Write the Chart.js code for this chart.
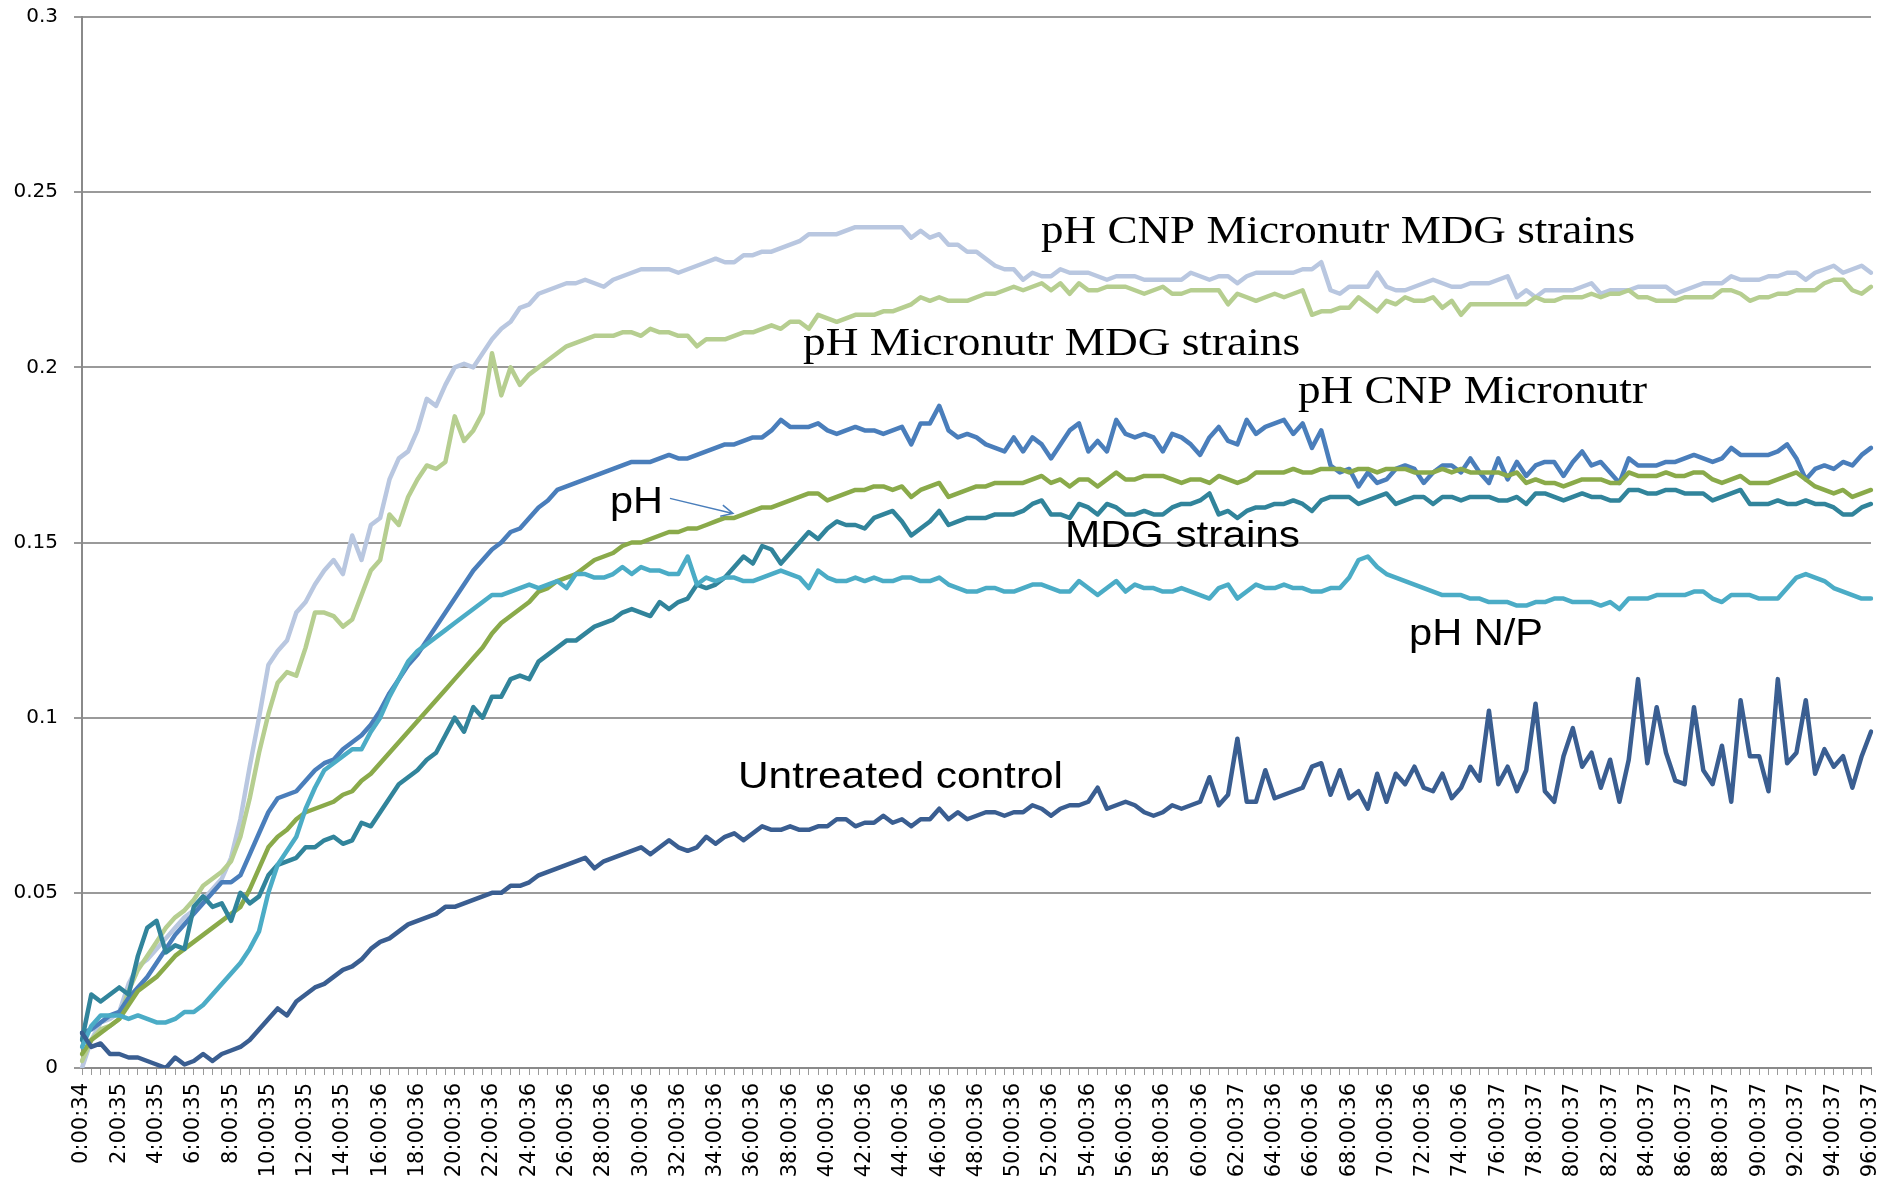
<!DOCTYPE html>
<html lang="en">
  <head>
    <meta charset="UTF-8" />
    <title>Growth curves</title>
    <script src="https://cdn.jsdelivr.net/npm/chart.js"></script>
    <style>
      html, body { margin: 0; padding: 0; background: #ffffff; }
      .wrap { width: 1883px; height: 1196px; position: relative; }
    </style>
  </head>
  <body>
    <div class="wrap"><canvas id="growth"></canvas></div>

    <script>
      // tick labels shown every 2 hours (data is sampled every 30 minutes)
      const tickLabels = [
        "0:00:34", "2:00:35", "4:00:35", "6:00:35", "8:00:35", "10:00:35", "12:00:35",
        "14:00:35", "16:00:36", "18:00:36", "20:00:36", "22:00:36", "24:00:36", "26:00:36",
        "28:00:36", "30:00:36", "32:00:36", "34:00:36", "36:00:36", "38:00:36", "40:00:36",
        "42:00:36", "44:00:36", "46:00:36", "48:00:36", "50:00:36", "52:00:36", "54:00:36",
        "56:00:36", "58:00:36", "60:00:36", "62:00:37", "64:00:36", "66:00:36", "68:00:36",
        "70:00:36", "72:00:36", "74:00:36", "76:00:37", "78:00:37", "80:00:37", "82:00:37",
        "84:00:37", "86:00:37", "88:00:37", "90:00:37", "92:00:37", "94:00:37", "96:00:37",
      ];

      // one row = 4 hours (8 readings)
      const untreated = [
        0.010, 0.006, 0.007, 0.004, 0.004, 0.003, 0.003, 0.002,
        0.001, 0.000, 0.003, 0.001, 0.002, 0.004, 0.002, 0.004,
        0.005, 0.006, 0.008, 0.011, 0.014, 0.017, 0.015, 0.019,
        0.021, 0.023, 0.024, 0.026, 0.028, 0.029, 0.031, 0.034,
        0.036, 0.037, 0.039, 0.041, 0.042, 0.043, 0.044, 0.046,
        0.046, 0.047, 0.048, 0.049, 0.050, 0.050, 0.052, 0.052,
        0.053, 0.055, 0.056, 0.057, 0.058, 0.059, 0.060, 0.057,
        0.059, 0.060, 0.061, 0.062, 0.063, 0.061, 0.063, 0.065,
        0.063, 0.062, 0.063, 0.066, 0.064, 0.066, 0.067, 0.065,
        0.067, 0.069, 0.068, 0.068, 0.069, 0.068, 0.068, 0.069,
        0.069, 0.071, 0.071, 0.069, 0.070, 0.070, 0.072, 0.070,
        0.071, 0.069, 0.071, 0.071, 0.074, 0.071, 0.073, 0.071,
        0.072, 0.073, 0.073, 0.072, 0.073, 0.073, 0.075, 0.074,
        0.072, 0.074, 0.075, 0.075, 0.076, 0.080, 0.074, 0.075,
        0.076, 0.075, 0.073, 0.072, 0.073, 0.075, 0.074, 0.075,
        0.076, 0.083, 0.075, 0.078, 0.094, 0.076, 0.076, 0.085,
        0.077, 0.078, 0.079, 0.080, 0.086, 0.087, 0.078, 0.085,
        0.077, 0.079, 0.074, 0.084, 0.076, 0.084, 0.081, 0.086,
        0.080, 0.079, 0.084, 0.077, 0.080, 0.086, 0.082, 0.102,
        0.081, 0.086, 0.079, 0.085, 0.104, 0.079, 0.076, 0.089,
        0.097, 0.086, 0.090, 0.080, 0.088, 0.076, 0.088, 0.111,
        0.087, 0.103, 0.090, 0.082, 0.081, 0.103, 0.085, 0.081,
        0.092, 0.076, 0.105, 0.089, 0.089, 0.079, 0.111, 0.087,
        0.090, 0.105, 0.084, 0.091, 0.086, 0.089, 0.080, 0.089,
        0.096,
      ];

      const phNP = [
        0.006, 0.012, 0.015, 0.015, 0.015, 0.014, 0.015, 0.014,
        0.013, 0.013, 0.014, 0.016, 0.016, 0.018, 0.021, 0.024,
        0.027, 0.030, 0.034, 0.039, 0.050, 0.058, 0.062, 0.066,
        0.074, 0.080, 0.085, 0.087, 0.089, 0.091, 0.091, 0.096,
        0.100, 0.106, 0.111, 0.116, 0.119, 0.121, 0.123, 0.125,
        0.127, 0.129, 0.131, 0.133, 0.135, 0.135, 0.136, 0.137,
        0.138, 0.137, 0.138, 0.139, 0.137, 0.141, 0.141, 0.140,
        0.140, 0.141, 0.143, 0.141, 0.143, 0.142, 0.142, 0.141,
        0.141, 0.146, 0.138, 0.140, 0.139, 0.140, 0.140, 0.139,
        0.139, 0.140, 0.141, 0.142, 0.141, 0.140, 0.137, 0.142,
        0.140, 0.139, 0.139, 0.140, 0.139, 0.140, 0.139, 0.139,
        0.140, 0.140, 0.139, 0.139, 0.140, 0.138, 0.137, 0.136,
        0.136, 0.137, 0.137, 0.136, 0.136, 0.137, 0.138, 0.138,
        0.137, 0.136, 0.136, 0.139, 0.137, 0.135, 0.137, 0.139,
        0.136, 0.138, 0.137, 0.137, 0.136, 0.136, 0.137, 0.136,
        0.135, 0.134, 0.137, 0.138, 0.134, 0.136, 0.138, 0.137,
        0.137, 0.138, 0.137, 0.137, 0.136, 0.136, 0.137, 0.137,
        0.140, 0.145, 0.146, 0.143, 0.141, 0.140, 0.139, 0.138,
        0.137, 0.136, 0.135, 0.135, 0.135, 0.134, 0.134, 0.133,
        0.133, 0.133, 0.132, 0.132, 0.133, 0.133, 0.134, 0.134,
        0.133, 0.133, 0.133, 0.132, 0.133, 0.131, 0.134, 0.134,
        0.134, 0.135, 0.135, 0.135, 0.135, 0.136, 0.136, 0.134,
        0.133, 0.135, 0.135, 0.135, 0.134, 0.134, 0.134, 0.137,
        0.140, 0.141, 0.140, 0.139, 0.137, 0.136, 0.135, 0.134,
        0.134,
      ];

      const mdgStrains = [
        0.008, 0.021, 0.019, 0.021, 0.023, 0.021, 0.032, 0.040,
        0.042, 0.033, 0.035, 0.034, 0.046, 0.049, 0.046, 0.047,
        0.042, 0.050, 0.047, 0.049, 0.055, 0.058, 0.059, 0.060,
        0.063, 0.063, 0.065, 0.066, 0.064, 0.065, 0.070, 0.069,
        0.073, 0.077, 0.081, 0.083, 0.085, 0.088, 0.090, 0.095,
        0.100, 0.096, 0.103, 0.100, 0.106, 0.106, 0.111, 0.112,
        0.111, 0.116, 0.118, 0.120, 0.122, 0.122, 0.124, 0.126,
        0.127, 0.128, 0.130, 0.131, 0.130, 0.129, 0.133, 0.131,
        0.133, 0.134, 0.138, 0.137, 0.138, 0.140, 0.143, 0.146,
        0.144, 0.149, 0.148, 0.144, 0.147, 0.150, 0.153, 0.151,
        0.154, 0.156, 0.155, 0.155, 0.154, 0.157, 0.158, 0.159,
        0.156, 0.152, 0.154, 0.156, 0.159, 0.155, 0.156, 0.157,
        0.157, 0.157, 0.158, 0.158, 0.158, 0.159, 0.161, 0.162,
        0.158, 0.158, 0.157, 0.161, 0.160, 0.158, 0.161, 0.160,
        0.158, 0.158, 0.159, 0.158, 0.158, 0.160, 0.161, 0.161,
        0.162, 0.164, 0.158, 0.159, 0.157, 0.159, 0.160, 0.160,
        0.161, 0.161, 0.162, 0.161, 0.159, 0.162, 0.163, 0.163,
        0.163, 0.161, 0.162, 0.163, 0.164, 0.161, 0.162, 0.163,
        0.163, 0.161, 0.163, 0.163, 0.162, 0.163, 0.163, 0.163,
        0.162, 0.162, 0.163, 0.161, 0.164, 0.164, 0.163, 0.162,
        0.163, 0.164, 0.163, 0.163, 0.162, 0.162, 0.165, 0.165,
        0.164, 0.164, 0.165, 0.165, 0.164, 0.164, 0.164, 0.162,
        0.163, 0.164, 0.165, 0.161, 0.161, 0.161, 0.162, 0.161,
        0.161, 0.162, 0.161, 0.161, 0.160, 0.158, 0.158, 0.160,
        0.161,
      ];

      const phOnly = [
        0.004, 0.008, 0.010, 0.012, 0.014, 0.018, 0.022, 0.024,
        0.026, 0.029, 0.032, 0.034, 0.036, 0.038, 0.040, 0.042,
        0.044, 0.046, 0.051, 0.057, 0.063, 0.066, 0.068, 0.071,
        0.073, 0.074, 0.075, 0.076, 0.078, 0.079, 0.082, 0.084,
        0.087, 0.090, 0.093, 0.096, 0.099, 0.102, 0.105, 0.108,
        0.111, 0.114, 0.117, 0.120, 0.124, 0.127, 0.129, 0.131,
        0.133, 0.136, 0.137, 0.139, 0.140, 0.141, 0.143, 0.145,
        0.146, 0.147, 0.149, 0.150, 0.150, 0.151, 0.152, 0.153,
        0.153, 0.154, 0.154, 0.155, 0.156, 0.157, 0.157, 0.158,
        0.159, 0.160, 0.160, 0.161, 0.162, 0.163, 0.164, 0.164,
        0.162, 0.163, 0.164, 0.165, 0.165, 0.166, 0.166, 0.165,
        0.166, 0.163, 0.165, 0.166, 0.167, 0.163, 0.164, 0.165,
        0.166, 0.166, 0.167, 0.167, 0.167, 0.167, 0.168, 0.169,
        0.167, 0.168, 0.166, 0.168, 0.168, 0.166, 0.168, 0.170,
        0.168, 0.168, 0.169, 0.169, 0.169, 0.168, 0.167, 0.168,
        0.168, 0.167, 0.169, 0.168, 0.167, 0.168, 0.170, 0.170,
        0.170, 0.170, 0.171, 0.170, 0.170, 0.171, 0.171, 0.171,
        0.170, 0.171, 0.171, 0.170, 0.171, 0.171, 0.171, 0.170,
        0.170, 0.170, 0.171, 0.170, 0.171, 0.170, 0.170, 0.170,
        0.170, 0.169, 0.170, 0.167, 0.168, 0.167, 0.167, 0.166,
        0.167, 0.168, 0.168, 0.168, 0.167, 0.167, 0.170, 0.169,
        0.169, 0.169, 0.170, 0.169, 0.169, 0.170, 0.170, 0.168,
        0.167, 0.168, 0.169, 0.167, 0.167, 0.167, 0.168, 0.169,
        0.170, 0.168, 0.166, 0.165, 0.164, 0.165, 0.163, 0.164,
        0.165,
      ];

      const phCnpMicro = [
        0.010, 0.011, 0.013, 0.015, 0.016, 0.020, 0.023, 0.026,
        0.030, 0.034, 0.038, 0.041, 0.044, 0.047, 0.050, 0.053,
        0.053, 0.055, 0.061, 0.067, 0.073, 0.077, 0.078, 0.079,
        0.082, 0.085, 0.087, 0.088, 0.091, 0.093, 0.095, 0.098,
        0.102, 0.107, 0.111, 0.115, 0.118, 0.122, 0.126, 0.130,
        0.134, 0.138, 0.142, 0.145, 0.148, 0.150, 0.153, 0.154,
        0.157, 0.160, 0.162, 0.165, 0.166, 0.167, 0.168, 0.169,
        0.170, 0.171, 0.172, 0.173, 0.173, 0.173, 0.174, 0.175,
        0.174, 0.174, 0.175, 0.176, 0.177, 0.178, 0.178, 0.179,
        0.180, 0.180, 0.182, 0.185, 0.183, 0.183, 0.183, 0.184,
        0.182, 0.181, 0.182, 0.183, 0.182, 0.182, 0.181, 0.182,
        0.183, 0.178, 0.184, 0.184, 0.189, 0.182, 0.180, 0.181,
        0.180, 0.178, 0.177, 0.176, 0.180, 0.176, 0.180, 0.178,
        0.174, 0.178, 0.182, 0.184, 0.176, 0.179, 0.176, 0.185,
        0.181, 0.180, 0.181, 0.180, 0.176, 0.181, 0.180, 0.178,
        0.175, 0.180, 0.183, 0.179, 0.178, 0.185, 0.181, 0.183,
        0.184, 0.185, 0.181, 0.184, 0.177, 0.182, 0.172, 0.170,
        0.171, 0.166, 0.170, 0.167, 0.168, 0.171, 0.172, 0.171,
        0.167, 0.170, 0.172, 0.172, 0.170, 0.174, 0.170, 0.167,
        0.174, 0.168, 0.173, 0.169, 0.172, 0.173, 0.173, 0.169,
        0.173, 0.176, 0.172, 0.173, 0.170, 0.167, 0.174, 0.172,
        0.172, 0.172, 0.173, 0.173, 0.174, 0.175, 0.174, 0.173,
        0.174, 0.177, 0.175, 0.175, 0.175, 0.175, 0.176, 0.178,
        0.174, 0.168, 0.171, 0.172, 0.171, 0.173, 0.172, 0.175,
        0.177,
      ];

      const phMicroMdg = [
        0.002, 0.008, 0.011, 0.012, 0.014, 0.022, 0.028, 0.032,
        0.036, 0.040, 0.043, 0.045, 0.048, 0.052, 0.054, 0.056,
        0.059, 0.066, 0.077, 0.090, 0.101, 0.110, 0.113, 0.112,
        0.120, 0.130, 0.130, 0.129, 0.126, 0.128, 0.135, 0.142,
        0.145, 0.158, 0.155, 0.163, 0.168, 0.172, 0.171, 0.173,
        0.186, 0.179, 0.182, 0.187, 0.204, 0.192, 0.200, 0.195,
        0.198, 0.200, 0.202, 0.204, 0.206, 0.207, 0.208, 0.209,
        0.209, 0.209, 0.210, 0.210, 0.209, 0.211, 0.210, 0.210,
        0.209, 0.209, 0.206, 0.208, 0.208, 0.208, 0.209, 0.210,
        0.210, 0.211, 0.212, 0.211, 0.213, 0.213, 0.211, 0.215,
        0.214, 0.213, 0.214, 0.215, 0.215, 0.215, 0.216, 0.216,
        0.217, 0.218, 0.220, 0.219, 0.220, 0.219, 0.219, 0.219,
        0.220, 0.221, 0.221, 0.222, 0.223, 0.222, 0.223, 0.224,
        0.222, 0.224, 0.221, 0.224, 0.222, 0.222, 0.223, 0.223,
        0.223, 0.222, 0.221, 0.222, 0.223, 0.221, 0.221, 0.222,
        0.222, 0.222, 0.222, 0.218, 0.221, 0.220, 0.219, 0.220,
        0.221, 0.220, 0.221, 0.222, 0.215, 0.216, 0.216, 0.217,
        0.217, 0.220, 0.218, 0.216, 0.219, 0.218, 0.220, 0.219,
        0.219, 0.220, 0.217, 0.219, 0.215, 0.218, 0.218, 0.218,
        0.218, 0.218, 0.218, 0.218, 0.220, 0.219, 0.219, 0.220,
        0.220, 0.220, 0.221, 0.220, 0.221, 0.221, 0.222, 0.220,
        0.220, 0.219, 0.219, 0.219, 0.220, 0.220, 0.220, 0.220,
        0.222, 0.222, 0.221, 0.219, 0.220, 0.220, 0.221, 0.221,
        0.222, 0.222, 0.222, 0.224, 0.225, 0.225, 0.222, 0.221,
        0.223,
      ];

      const phCnpMicroMdg = [
        0.000, 0.008, 0.013, 0.014, 0.016, 0.024, 0.029, 0.031,
        0.034, 0.037, 0.040, 0.043, 0.045, 0.048, 0.051, 0.054,
        0.060, 0.071, 0.086, 0.100, 0.115, 0.119, 0.122, 0.130,
        0.133, 0.138, 0.142, 0.145, 0.141, 0.152, 0.145, 0.155,
        0.157, 0.168, 0.174, 0.176, 0.182, 0.191, 0.189, 0.195,
        0.200, 0.201, 0.200, 0.204, 0.208, 0.211, 0.213, 0.217,
        0.218, 0.221, 0.222, 0.223, 0.224, 0.224, 0.225, 0.224,
        0.223, 0.225, 0.226, 0.227, 0.228, 0.228, 0.228, 0.228,
        0.227, 0.228, 0.229, 0.230, 0.231, 0.230, 0.230, 0.232,
        0.232, 0.233, 0.233, 0.234, 0.235, 0.236, 0.238, 0.238,
        0.238, 0.238, 0.239, 0.240, 0.240, 0.240, 0.240, 0.240,
        0.240, 0.237, 0.239, 0.237, 0.238, 0.235, 0.235, 0.233,
        0.233, 0.231, 0.229, 0.228, 0.228, 0.225, 0.227, 0.226,
        0.226, 0.228, 0.227, 0.227, 0.227, 0.226, 0.225, 0.226,
        0.226, 0.226, 0.225, 0.225, 0.225, 0.225, 0.225, 0.227,
        0.226, 0.225, 0.226, 0.226, 0.224, 0.226, 0.227, 0.227,
        0.227, 0.227, 0.227, 0.228, 0.228, 0.230, 0.222, 0.221,
        0.223, 0.223, 0.223, 0.227, 0.223, 0.222, 0.222, 0.223,
        0.224, 0.225, 0.224, 0.223, 0.223, 0.224, 0.224, 0.224,
        0.225, 0.226, 0.220, 0.222, 0.220, 0.222, 0.222, 0.222,
        0.222, 0.223, 0.224, 0.221, 0.222, 0.222, 0.222, 0.223,
        0.223, 0.223, 0.223, 0.221, 0.222, 0.223, 0.224, 0.224,
        0.224, 0.226, 0.225, 0.225, 0.225, 0.226, 0.226, 0.227,
        0.227, 0.225, 0.227, 0.228, 0.229, 0.227, 0.228, 0.229,
        0.227,
      ];

      // category labels: a label every 4th reading (every 2 h), blank otherwise
      const labels = untreated.map((_, i) => (i % 4 === 0 ? tickLabels[i / 4] : ""));

      const series = [
        { label: "Untreated control", data: untreated, color: "#3a5e91" },
        { label: "pH N/P", data: phNP, color: "#4bacc6" },
        { label: "MDG strains", data: mdgStrains, color: "#31849b" },
        { label: "pH", data: phOnly, color: "#8aaa4a" },
        { label: "pH CNP Micronutr", data: phCnpMicro, color: "#4a7ebb" },
        { label: "pH Micronutr MDG strains", data: phMicroMdg, color: "#b6ce90" },
        { label: "pH CNP Micronutr MDG strains", data: phCnpMicroMdg, color: "#b9c7e0" },
      ];

      // text labels placed inside the plot (hour, value = left end of baseline)
      const notes = [
        { text: "pH CNP Micronutr MDG strains", hour: 51.46, value: 0.2354, width: 594, serif: true },
        { text: "pH Micronutr MDG strains", hour: 38.69, value: 0.2034, width: 497, serif: true },
        { text: "pH CNP Micronutr", hour: 65.25, value: 0.1897, width: 349, serif: true },
        { text: "pH", hour: 28.33, value: 0.1583, width: 53, serif: false },
        { text: "MDG strains", hour: 52.75, value: 0.1486, width: 235, serif: false },
        { text: "pH N/P", hour: 71.21, value: 0.1206, width: 134, serif: false },
        { text: "Untreated control", hour: 35.2, value: 0.0798, width: 325, serif: false },
      ];
      const arrow = { from: [31.55, 0.1626], to: [34.93, 0.1583], color: "#4a7ebb" };

      const notesPlugin = {
        id: "notes",
        afterDatasetsDraw(chart) {
          const { ctx } = chart;
          const xs = chart.scales.x;
          const ys = chart.scales.y;
          ctx.save();
          ctx.fillStyle = "#000";
          ctx.textBaseline = "alphabetic";
          notes.forEach((n) => {
            ctx.save();
            ctx.font = n.serif ? '40px "Liberation Serif"' : '36px "Liberation Sans"';
            const w = ctx.measureText(n.text).width;
            ctx.translate(xs.getPixelForValue(n.hour * 2), ys.getPixelForValue(n.value));
            ctx.scale(n.width / w, 1);
            ctx.fillText(n.text, 0, 0);
            ctx.restore();
          });

          // little arrow from "pH" to its line
          const x1 = xs.getPixelForValue(arrow.from[0] * 2);
          const y1 = ys.getPixelForValue(arrow.from[1]);
          const x2 = xs.getPixelForValue(arrow.to[0] * 2);
          const y2 = ys.getPixelForValue(arrow.to[1]);
          const ang = Math.atan2(y2 - y1, x2 - x1);
          ctx.strokeStyle = arrow.color;
          ctx.lineWidth = 1.5;
          ctx.beginPath();
          ctx.moveTo(x1, y1);
          ctx.lineTo(x2, y2);
          ctx.moveTo(x2 - 13 * Math.cos(ang - 0.45), y2 - 13 * Math.sin(ang - 0.45));
          ctx.lineTo(x2, y2);
          ctx.lineTo(x2 - 13 * Math.cos(ang + 0.45), y2 - 13 * Math.sin(ang + 0.45));
          ctx.stroke();
          ctx.restore();
        },
      };

      new Chart(document.getElementById("growth"), {
        type: "line",
        data: {
          labels: labels,
          datasets: series.map((s) => ({
            label: s.label,
            data: s.data,
            borderColor: s.color,
            backgroundColor: s.color,
            borderWidth: 4.5,
            pointRadius: 0,
            tension: 0,
            fill: false,
            borderJoinStyle: "round",
            borderCapStyle: "round",
          })),
        },
        options: {
          responsive: true,
          maintainAspectRatio: false,
          devicePixelRatio: 1,
          animation: false,
          layout: { padding: { top: 17, right: 12, left: 0, bottom: 0 } },
          plugins: {
            legend: { display: false },
            tooltip: { enabled: false },
          },
          scales: {
            x: {
              type: "category",
              offset: false,
              afterFit: (scale) => {
                scale.height = 128;
                scale.paddingLeft = 0;
                scale.paddingRight = 0;
              },
              grid: {
                drawOnChartArea: false,
                drawTicks: true,
                tickLength: 7,
                color: "#9a9a9a",
                lineWidth: 1,
              },
              border: { display: true, color: "#8a8a8a", width: 2 },
              ticks: {
                autoSkip: false,
                minRotation: 90,
                maxRotation: 90,
                padding: 8,
                color: "#000",
                font: { family: "DejaVu Sans", size: 21 },
              },
            },
            y: {
              min: 0,
              max: 0.3,
              afterFit: (scale) => {
                scale.width = 82;
                scale.paddingTop = 0;
                scale.paddingBottom = 0;
              },
              grid: { color: "#9a9a9a", lineWidth: 2, tickLength: 8 },
              border: { display: true, color: "#8a8a8a", width: 2 },
              ticks: {
                stepSize: 0.05,
                padding: 16,
                color: "#000",
                font: { family: "DejaVu Sans", size: 20 },
                callback: (v) => String(Number(v.toFixed(2))),
              },
            },
          },
        },
        plugins: [notesPlugin],
      });
    </script>
  </body>
</html>
